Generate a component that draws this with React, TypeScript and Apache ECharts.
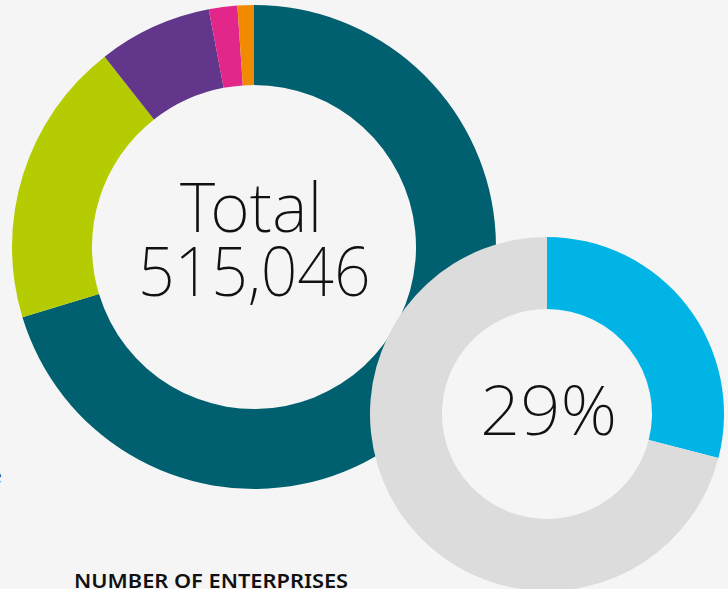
import React, { useEffect, useRef } from "react";
import * as echarts from "echarts";

const segmentNames = ["Micro", "Small", "Medium", "Large", "Other"];
const segmentValues = [362100, 98400, 39100, 9800, 5646];
const segmentColors = ["#00606f", "#b5cc03", "#62368a", "#e3268a", "#f08a00"];

const shareNames = ["Share", "Rest"];
const shareValues = [29, 71];
const shareColors = ["#00b4e6", "#dcdcdc"];

const totalLabel = "Total";
const totalValue = "515,046";
const shareLabel = "29%";
const footerLabel = "NUMBER OF ENTERPRISES";

const BG = "#f5f5f5";

export default function App() {
  const ref = useRef<HTMLDivElement>(null);
  useEffect(() => {
    if (!ref.current) return;
    const chart = echarts.init(ref.current, undefined, { renderer: "svg" });
    const pieBase = {
      type: "pie",
      startAngle: 90,
      clockwise: true,
      silent: true,
      label: { show: false },
      labelLine: { show: false },
      emphasis: { disabled: true },
      itemStyle: { borderWidth: 0 },
    };
    chart.setOption({
      animation: false,
      backgroundColor: BG,
      series: [
        {
          ...pieBase,
          center: [254, 247],
          radius: [162, 242],
          z: 1,
          data: segmentNames.map((n, i) => ({
            name: n,
            value: segmentValues[i],
            itemStyle: { color: segmentColors[i] },
          })),
        },
        {
          ...pieBase,
          center: [547, 414],
          radius: [0, 106],
          z: 2,
          data: [{ name: "hole", value: 1, itemStyle: { color: BG } }],
        },
        {
          ...pieBase,
          center: [547, 414],
          radius: [105, 177],
          z: 3,
          data: shareNames.map((n, i) => ({
            name: n,
            value: shareValues[i],
            itemStyle: { color: shareColors[i] },
          })),
        },
      ],
      graphic: [
        {
          type: "text",
          x: 180,
          y: 171,
          z: 10,
          style: {
            text: totalLabel,
            font: '200 68px "Noto Sans", sans-serif',
            fill: "#111",
            textVerticalAlign: "top",
          },
        },
        {
          type: "text",
          x: 138,
          y: 235,
          scaleX: 0.945,
          z: 10,
          style: {
            text: totalValue,
            font: '200 68px "Noto Sans", sans-serif',
            fill: "#111",
            textVerticalAlign: "top",
          },
        },
        {
          type: "text",
          x: 480,
          y: 375,
          scaleX: 1.04,
          z: 10,
          style: {
            text: shareLabel,
            font: '200 68px "Noto Sans", sans-serif',
            fill: "#111",
            textVerticalAlign: "top",
          },
        },
        {
          type: "text",
          x: 74,
          y: 570,
          scaleX: 1.09,
          z: 10,
          style: {
            text: footerLabel,
            font: '600 20px "Noto Sans", sans-serif',
            fill: "#111",
            textVerticalAlign: "top",
          },
        },
        {
          type: "text",
          x: -9,
          y: 466,
          z: 10,
          style: {
            text: "e",
            font: '400 19px "Noto Sans", sans-serif',
            fill: "#333",
            textVerticalAlign: "top",
          },
        },
      ],
    });
    return () => chart.dispose();
  }, []);
  return (
    <div
      ref={ref}
      style={{ position: "fixed", left: 0, top: 0, width: 728, height: 589, background: BG }}
    />
  );
}
